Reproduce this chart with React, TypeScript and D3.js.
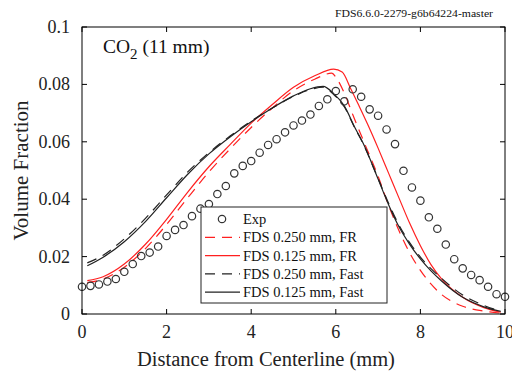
import React from "react";
import * as d3 from "d3";

// Experimental CO2 volume fraction, 11 mm above burner
const expX = [0, 0.2, 0.4, 0.6, 0.8, 1.0, 1.2, 1.4, 1.6, 1.8, 2.0, 2.2, 2.4, 2.6, 2.8, 3.0, 3.2, 3.4, 3.6, 3.8, 4.0, 4.2, 4.4, 4.6, 4.8, 5.0, 5.2, 5.4, 5.6, 5.8, 6.0, 6.2, 6.4, 6.6, 6.8, 7.0, 7.2, 7.4, 7.6, 7.8, 8.0, 8.2, 8.4, 8.6, 8.8, 9.0, 9.2, 9.4, 9.6, 9.8, 10.0];
const expY = [0.0095, 0.0098, 0.0103, 0.0113, 0.0122, 0.0147, 0.0174, 0.0202, 0.0214, 0.0235, 0.0272, 0.0293, 0.031, 0.0341, 0.0367, 0.0383, 0.0418, 0.0446, 0.049, 0.0516, 0.0533, 0.0562, 0.0589, 0.0609, 0.0633, 0.0657, 0.0674, 0.0695, 0.0725, 0.0748, 0.0777, 0.0741, 0.0783, 0.0757, 0.0713, 0.0691, 0.0643, 0.0592, 0.0499, 0.0441, 0.0395, 0.0337, 0.0297, 0.0242, 0.0191, 0.0159, 0.0136, 0.0118, 0.0095, 0.0069, 0.006];

// FDS 0.250 mm, FR
const fr250X = [0.125, 0.5, 1.0, 1.5, 2.0, 2.5, 3.0, 3.5, 4.0, 4.5, 5.0, 5.5, 5.9, 6.02, 6.2, 6.4, 6.65, 7.0, 7.25, 7.5, 7.75, 8.0, 8.5, 9.0, 9.5, 9.9];
const fr250Y = [0.0109, 0.0122, 0.0163, 0.0228, 0.0312, 0.0405, 0.0495, 0.0575, 0.065, 0.0718, 0.0778, 0.0818, 0.0839, 0.0821, 0.077, 0.0695, 0.0605, 0.048, 0.0378, 0.0288, 0.0212, 0.0152, 0.0068, 0.0027, 0.001, 0.0003];

// FDS 0.125 mm, FR
const fr125X = [0.125, 0.5, 1.0, 1.5, 2.0, 2.5, 3.0, 3.5, 4.0, 4.5, 5.0, 5.5, 5.95, 6.15, 6.35, 6.55, 6.75, 7.0, 7.25, 7.5, 7.75, 8.0, 8.25, 8.5, 9.0, 9.5, 9.9];
const fr125Y = [0.0116, 0.013, 0.0174, 0.0243, 0.033, 0.0425, 0.0513, 0.059, 0.0665, 0.073, 0.079, 0.083, 0.0853, 0.0843, 0.0786, 0.0725, 0.0662, 0.0578, 0.049, 0.0402, 0.0315, 0.0238, 0.0172, 0.0122, 0.0058, 0.0022, 0.0006];

// FDS 0.250 mm, Fast
const fast250X = [0.125, 0.5, 1.0, 1.5, 2.0, 2.5, 3.0, 3.5, 4.0, 4.5, 5.0, 5.4, 5.7, 5.95, 6.2, 6.45, 6.65, 7.0, 7.25, 7.5, 7.75, 8.0, 8.25, 8.5, 9.0, 9.5, 9.9];
const fast250Y = [0.0178, 0.0205, 0.0262, 0.0333, 0.0415, 0.0495, 0.0562, 0.062, 0.0672, 0.0718, 0.0758, 0.0782, 0.079, 0.0765, 0.0722, 0.0648, 0.0592, 0.0472, 0.0385, 0.0308, 0.0248, 0.0198, 0.0158, 0.0124, 0.0066, 0.003, 0.001];

// FDS 0.125 mm, Fast
const fast125X = [0.125, 0.5, 1.0, 1.5, 2.0, 2.5, 3.0, 3.5, 4.0, 4.5, 5.0, 5.4, 5.7, 5.95, 6.2, 6.45, 6.65, 7.0, 7.25, 7.5, 7.75, 8.0, 8.25, 8.5, 9.0, 9.5, 9.9];
const fast125Y = [0.0168, 0.0198, 0.0252, 0.0322, 0.0405, 0.0487, 0.0558, 0.0617, 0.067, 0.0718, 0.076, 0.0785, 0.0793, 0.0768, 0.0725, 0.065, 0.0594, 0.047, 0.038, 0.0302, 0.0242, 0.0192, 0.015, 0.0115, 0.0058, 0.0025, 0.0009];

const xTicks = [0, 2, 4, 6, 8, 10];
const yTicks = [0, 0.02, 0.04, 0.06, 0.08, 0.1];
const yTickLabels = ["0", "0.02", "0.04", "0.06", "0.08", "0.1"];

const legendLabels = ["Exp", "FDS 0.250 mm, FR", "FDS 0.125 mm, FR", "FDS 0.250 mm, Fast", "FDS 0.125 mm, Fast"];

const W = 512;
const H = 374;
const L = 82, R = 505, T = 27, B = 314;
const FONT = "'Liberation Serif', 'DejaVu Serif', serif";
const RED = "#ff2020";
const BLACK = "#222";

export default function App() {
  const x = d3.scaleLinear().domain([0, 10]).range([L, R]);
  const y = d3.scaleLinear().domain([0, 0.1]).range([B, T]);

  const line = d3
    .line<[number, number]>()
    .x((d) => x(d[0]))
    .y((d) => y(d[1]))
    .curve(d3.curveMonotoneX);

  const zip = (xs: number[], ys: number[]) => xs.map((v, i) => [v, ys[i]] as [number, number]);

  const series = [
    { xs: fr250X, ys: fr250Y, color: RED, dash: "10,7" },
    { xs: fr125X, ys: fr125Y, color: RED, dash: "" },
    { xs: fast250X, ys: fast250Y, color: BLACK, dash: "10,7" },
    { xs: fast125X, ys: fast125Y, color: BLACK, dash: "" },
  ];

  const tick = 5;
  const lgX = 201, lgY = 207, lgW = 186, lgH = 96;
  const rowY = (i: number) => 219 + i * 18.3;

  return (
    <svg width={W} height={H} style={{ position: "absolute", left: 0, top: 0, background: "#fff" }}>
      <rect x={0} y={0} width={W} height={H} fill="#fff" />

      {/* model curves */}
      {series.map((s, i) => (
        <path
          key={i}
          d={line(zip(s.xs, s.ys)) || ""}
          fill="none"
          stroke={s.color}
          strokeWidth={1.2}
          strokeDasharray={s.dash || undefined}
        />
      ))}

      {/* measurements */}
      {expX.map((v, i) => (
        <circle key={i} cx={x(v)} cy={y(expY[i])} r={3.7} fill="none" stroke="#333" strokeWidth={1.2} />
      ))}

      {/* frame and ticks */}
      <rect x={L} y={T} width={R - L} height={B - T} fill="none" stroke="#000" strokeWidth={1} />
      {xTicks.map((t) => (
        <g key={"x" + t}>
          <line x1={x(t)} x2={x(t)} y1={B} y2={B - tick} stroke="#000" />
          <line x1={x(t)} x2={x(t)} y1={T} y2={T + tick} stroke="#000" />
          <text x={x(t)} y={338} fontSize={18} fontFamily={FONT} textAnchor="middle" fill="#222">
            {t}
          </text>
        </g>
      ))}
      {yTicks.map((t, i) => (
        <g key={"y" + t}>
          <line x1={L} x2={L + tick} y1={y(t)} y2={y(t)} stroke="#000" />
          <line x1={R} x2={R - tick} y1={y(t)} y2={y(t)} stroke="#000" />
          <text x={70} y={y(t) + 6} fontSize={18} fontFamily={FONT} textAnchor="end" fill="#222">
            {yTickLabels[i]}
          </text>
        </g>
      ))}

      {/* axis titles */}
      <text x={266} y={366} fontSize={20.5} fontFamily={FONT} textAnchor="middle" fill="#222">
        Distance from Centerline (mm)
      </text>
      <text
        transform={`translate(28,${(T + B) / 2}) rotate(-90)`}
        fontSize={21}
        fontFamily={FONT}
        textAnchor="middle"
        fill="#222"
      >
        Volume Fraction
      </text>

      {/* panel label */}
      <text x={103} y={53} fontSize={19.5} fontFamily={FONT} fill="#111">
        CO<tspan dy={6} fontSize={15}>2</tspan>
        <tspan dy={-6}> (11 mm)</tspan>
      </text>

      <text x={335} y={17} fontSize={10.5} fontFamily={FONT} fill="#111" textLength={158} lengthAdjust="spacingAndGlyphs">
        FDS6.6.0-2279-g6b64224-master
      </text>

      {/* legend */}
      <rect x={lgX} y={lgY} width={lgW} height={lgH} fill="#fff" stroke="#222" strokeWidth={1} />
      <circle cx={222} cy={rowY(0)} r={3.7} fill="none" stroke="#333" strokeWidth={1.2} />
      {series.map((s, i) => (
        <line
          key={"lg" + i}
          x1={205}
          x2={240}
          y1={rowY(i + 1)}
          y2={rowY(i + 1)}
          stroke={s.color}
          strokeWidth={1.2}
          strokeDasharray={s.dash || undefined}
        />
      ))}
      {legendLabels.map((lab, i) => (
        <text key={lab} x={243} y={rowY(i) + 5} fontSize={14.5} fontFamily={FONT} fill="#111">
          {lab}
        </text>
      ))}
    </svg>
  );
}
